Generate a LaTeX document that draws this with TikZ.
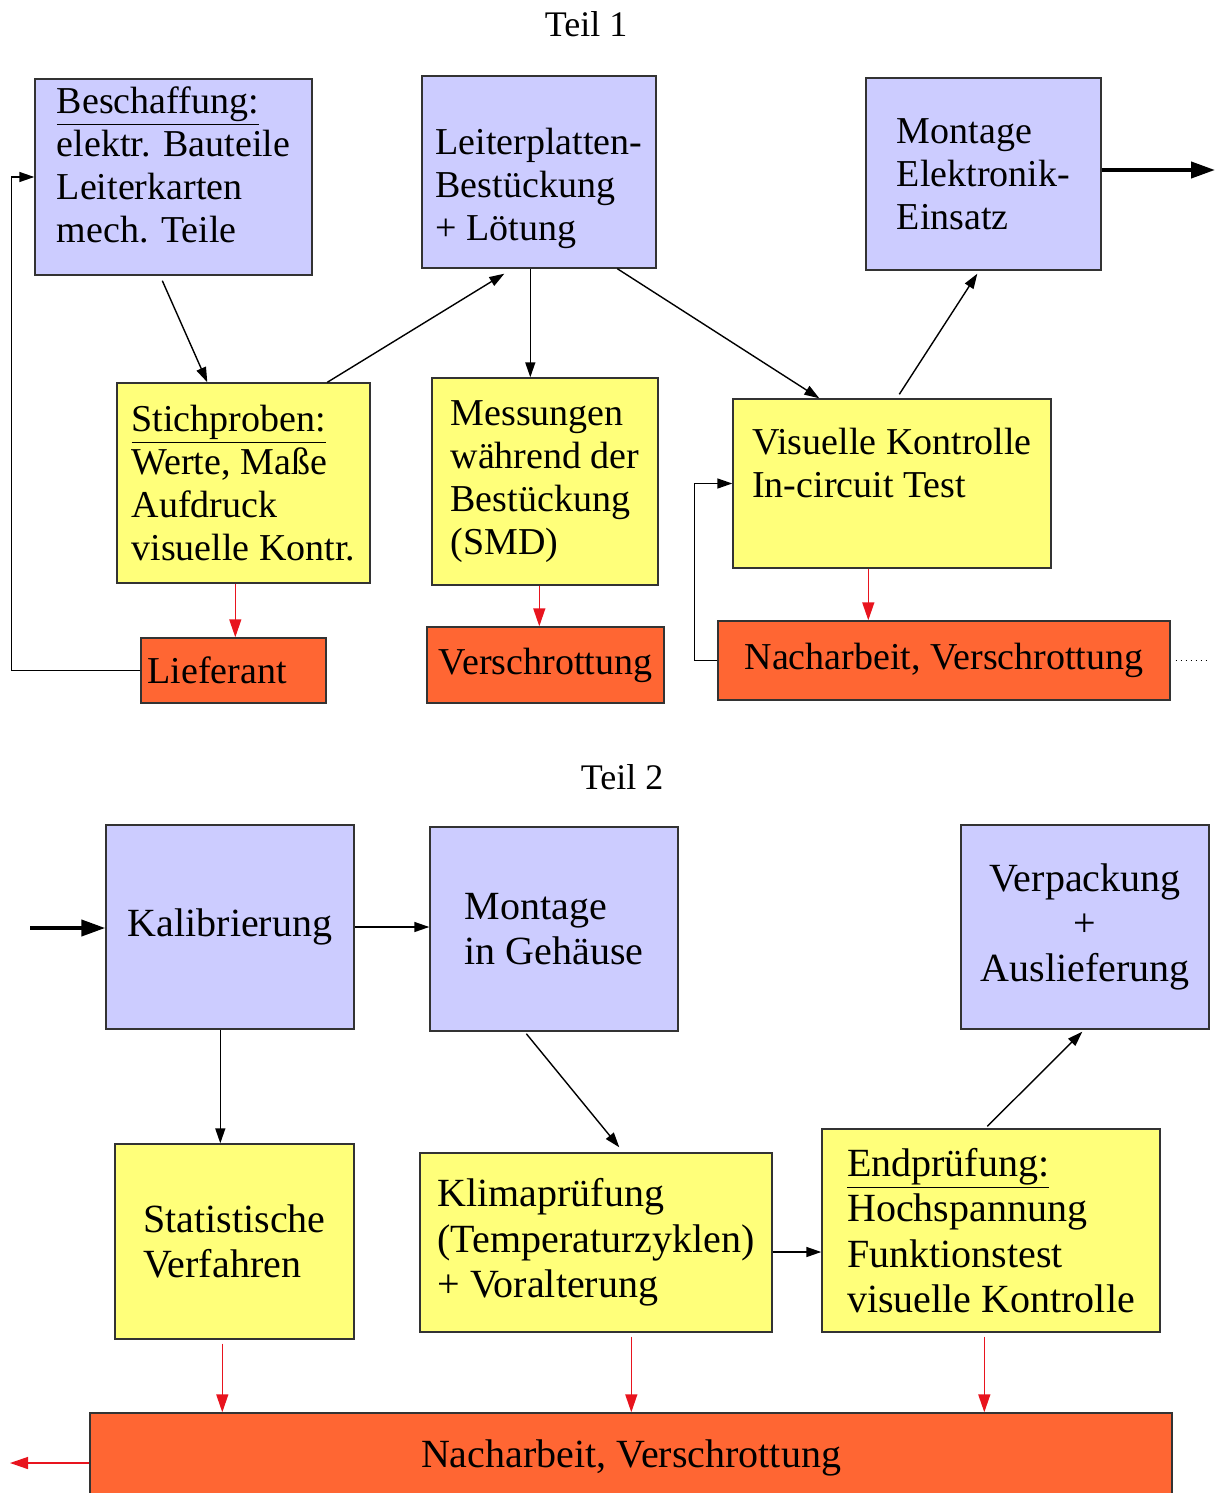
\documentclass[tikz,border=0pt]{standalone}
\usepackage{fontspec}
\setmainfont{Liberation Serif}
\usetikzlibrary{arrows.meta}
\definecolor{blau}{HTML}{CCCCFF}
\definecolor{gelb}{HTML}{FFFF7A}
\definecolor{orange}{HTML}{FF6633}
\definecolor{pfeilrot}{HTML}{E8141E}
% Text im Kasten senkrecht verschieben
\newcommand{\verschiebe}[2]{\raisebox{#1}[\height][\depth]{\begin{tabular}{@{}l@{}}#2\end{tabular}}}
\begin{document}
\begin{tikzpicture}[x=0.5pt,y=-0.5pt,>={Triangle[length=7.5pt,width=5pt]},line width=0.7pt]
\useasboundingbox (0,0) rectangle (1216,1493);
\tikzstyle{every node}=[draw=black!80,rectangle,align=left,inner sep=0pt,font=\fontsize{19}{21.5}\selectfont]
\tikzstyle{plan}=[fill=blau]
\tikzstyle{pruef}=[fill=gelb]
\tikzstyle{fehler}=[fill=orange]
\tikzstyle{teil2}=[font=\fontsize{20}{22.7}\selectfont]
\tikzstyle{rotpfeil}=[->,draw=pfeilrot,>={Triangle[length=9pt,width=6pt]}]
\tikzstyle{dickpfeil}=[->,line width=2pt,>={Triangle[length=12pt,width=8pt]}]
% Teil 1
\node[draw=none,font=\fontsize{18}{21}\selectfont](t1) at (586,24) {Teil 1};
\node[plan,minimum width=138.5pt,minimum height=98pt](b1) at (173.5,177) {\verschiebe{4pt}{\underline{Beschaffung:}\\elektr. Bauteile\\Leiterkarten\\mech. Teile}};
\node[plan,minimum width=117pt,minimum height=96pt](b2) at (539,172) {\verschiebe{-8.5pt}{Leiterplatten-\\Bestückung\\+ Lötung}};
\node[plan,minimum width=117.5pt,minimum height=96pt](b3) at (983.5,174) {Montage\\Elektronik-\\Einsatz};
\node[pruef,minimum width=126.5pt,minimum height=100pt](y1) at (243.5,483) {\underline{Stichproben:}\\Werte, Maße\\Aufdruck\\visuelle Kontr.};
\node[pruef,minimum width=113pt,minimum height=103.5pt](y2) at (545,481.5) {Messungen\\während der\\Bestückung\\(SMD)};
\node[pruef,minimum width=159pt,minimum height=84.5pt](y3) at (892,483.5) {\verschiebe{8pt}{Visuelle Kontrolle\\In-circuit Test}};
\node[fehler,minimum width=92.5pt,minimum height=32.5pt,text width=86pt](r1) at (233.5,670.5) {Lieferant};
\node[fehler,minimum width=118.5pt,minimum height=38pt](r2) at (545.5,665) {Verschrottung};
\node[fehler,minimum width=226pt,minimum height=39.5pt](r3) at (944,660.5) {Nacharbeit, Verschrottung};
\coordinate (aus1) at (1215,170);
\draw[->] ([xshift=64pt,yshift=-2.5pt]b1.south west) -- ([xshift=45.5pt]y1.north west);
\draw[->] ([xshift=105.5pt]y1.north west) -- ([xshift=41.5pt,yshift=-2.5pt]b2.south west);
\draw[->] ([xshift=54.5pt]b2.south west) -- ([xshift=54.5pt]b2.south west |- y2.north);
\draw[->] ([xshift=98pt]b2.south west) -- ([xshift=43.5pt]y3.north west);
\draw[->] ([xshift=83.5pt,yshift=2pt]y3.north west) -- ([xshift=56pt,yshift=-1.5pt]b3.south west);
\draw[dickpfeil] (b3.east |- aus1) -- (aus1);
\draw[rotpfeil] ([xshift=59.5pt]y1.south west) -- ([xshift=59.5pt]y1.south west |- r1.north);
\draw[rotpfeil] ([xshift=54pt]y2.south west) -- ([xshift=54pt]y2.south west |- r2.north);
\draw[rotpfeil] ([xshift=68pt]y3.south west) -- ([xshift=68pt]y3.south west |- r3.north);
\draw[->] (r1.west) -- ++(-64.5pt,0) |- (b1.west);
\draw[->] (r3.west) -- ++(-11.5pt,0) |- (y3.west);
\draw[dotted,line width=0.5pt] ([xshift=2.5pt]r3.east) -- ++(16.5pt,0);
% Teil 2
\node[draw=none,font=\fontsize{18}{21}\selectfont](t2) at (622,777) {Teil 2};
\node[plan,teil2,minimum width=124pt,minimum height=102pt](b4) at (230,927) {Kalibrierung};
\node[plan,teil2,minimum width=124pt,minimum height=102pt](b5) at (554,929) {Montage\\in Gehäuse};
\node[plan,teil2,align=center,minimum width=124pt,minimum height=102pt](b6) at (1085,927) {Verpackung\\+\\Auslieferung};
\node[pruef,teil2,minimum width=119.5pt,minimum height=97.5pt](y4) at (234.5,1241.5) {Statistische\\Verfahren};
\node[pruef,teil2,minimum width=176pt,minimum height=89.5pt](y5) at (596,1242.5) {Klimaprüfung\\(Temperaturzyklen)\\+ Voralterung};
\node[pruef,teil2,minimum width=169pt,minimum height=101.5pt](y6) at (991,1230.5) {\underline{Endprüfung:}\\Hochspannung\\Funktionstest\\visuelle Kontrolle};
\node[fehler,teil2,minimum width=541pt,minimum height=45pt](r4) at (631,1458) {Nacharbeit, Verschrottung};
\coordinate (ein2) at (30,928);
\coordinate (aus2) at (10,1463);
\draw[dickpfeil] (ein2) -- (ein2 -| b4.west);
\draw[->] (b4.east) -- (b4.east -| b5.west);
\draw[->] ([xshift=57.5pt]b4.south west) -- ([xshift=57.5pt]b4.south west |- y4.north);
\draw[->] ([xshift=48.5pt,yshift=-1pt]b5.south west) -- ([xshift=100pt,yshift=2.5pt]y5.north west);
\draw[->] ([yshift=-4.75pt]y5.east) -- ([yshift=-4.75pt]y5.east -| y6.west);
\draw[->] ([xshift=83pt,yshift=1pt]y6.north west) -- ([xshift=61pt,yshift=-1pt]b6.south west);
\draw[rotpfeil] ([xshift=54pt,yshift=-2pt]y4.south west) -- ([xshift=54pt]y4.south west |- r4.north);
\draw[rotpfeil] ([xshift=106pt,yshift=-2pt]y5.south west) -- ([xshift=106pt]y5.south west |- r4.north);
\draw[rotpfeil] ([xshift=81.5pt,yshift=-2pt]y6.south west) -- ([xshift=81.5pt]y6.south west |- r4.north);
\draw[rotpfeil] ([yshift=-2.5pt]r4.west) -- (aus2);
\end{tikzpicture}
\end{document}
